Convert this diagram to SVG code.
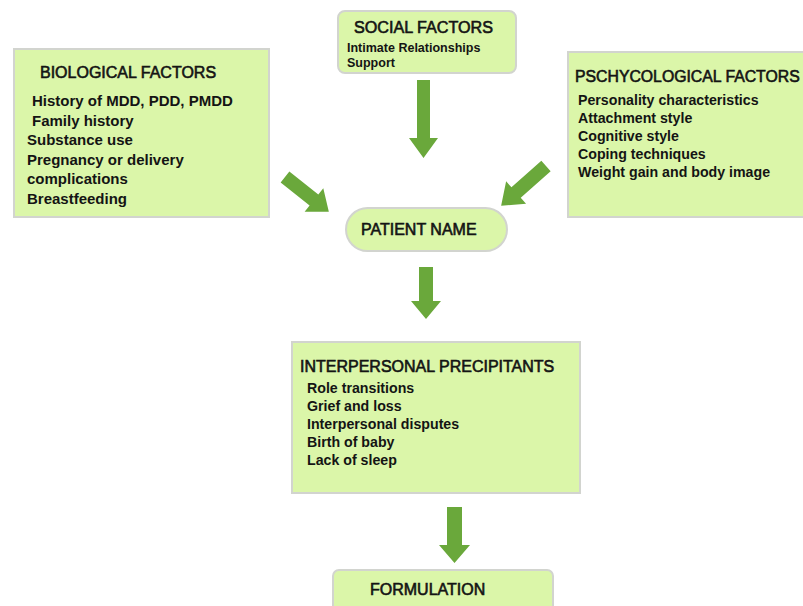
<svg xmlns="http://www.w3.org/2000/svg" width="803" height="606" viewBox="0 0 803 606">
<style>
.box{fill:#dbf6a9;stroke:#d2d4cf;stroke-width:2}
.t{font-family:"Liberation Sans",Arial,sans-serif;font-size:16px;fill:#141414;stroke:#141414;stroke-width:0.6}
.i{font-family:"Liberation Sans",Arial,sans-serif;font-weight:bold;fill:#141414}
.arr{fill:#6aa83b}
</style>
<rect width="803" height="606" fill="#ffffff"/>
<g id="connectors">
<polygon class="arr" points="417,80 430,80 430,138 438,138 423.5,158 409,138 417,138"/>
<polygon class="arr" transform="translate(285,177) rotate(38.5)" points="0,-7 37,-7 37,-15 56,0 37,15 37,7 0,7"/>
<polygon class="arr" transform="translate(546,166) rotate(138.4)" points="0,-7 40,-7 40,-15 60,0 40,15 40,7 0,7"/>
<polygon class="arr" points="419,267 433,267 433,301 441,301 426,319 411,301 419,301"/>
<polygon class="arr" points="447,507 462,507 462,545 470,545 454.5,563 439,545 447,545"/>
</g>
<g id="social">
<rect class="box" x="338" y="11" width="178" height="62" rx="7"/>
<text class="t" x="354" y="33" textLength="139" lengthAdjust="spacingAndGlyphs">SOCIAL FACTORS</text>
<text class="i" x="347" y="51.5" font-size="12.5">Intimate Relationships</text>
<text class="i" x="347" y="67" font-size="12.5">Support</text>
</g>
<g id="biological">
<rect class="box" x="14" y="49" width="255" height="168"/>
<text class="t" x="40" y="78">BIOLOGICAL FACTORS</text>
<g class="i" font-size="15">
<text x="32" y="106">History of MDD, PDD, PMDD</text>
<text x="32" y="125.5">Family history</text>
<text x="27" y="145">Substance use</text>
<text x="27" y="164.5">Pregnancy or delivery</text>
<text x="27" y="184">complications</text>
<text x="27" y="203.5">Breastfeeding</text>
</g>
</g>
<g id="psychological">
<rect class="box" x="568" y="52" width="245" height="165"/>
<text class="t" x="575" y="82" style="font-size:15.8px">PSCHYCOLOGICAL FACTORS</text>
<g class="i" font-size="14.2">
<text x="578" y="104.5">Personality characteristics</text>
<text x="578" y="122.5">Attachment style</text>
<text x="578" y="140.5">Cognitive style</text>
<text x="578" y="158.5">Coping techniques</text>
<text x="578" y="176.5">Weight gain and body image</text>
</g>
</g>
<g id="patient">
<rect class="box" x="346" y="208" width="161" height="43" rx="21.5"/>
<text class="t" x="361" y="235">PATIENT NAME</text>
</g>
<g id="interpersonal">
<rect class="box" x="292" y="342" width="288" height="151"/>
<text class="t" x="300" y="372">INTERPERSONAL PRECIPITANTS</text>
<g class="i" font-size="14.2">
<text x="307" y="392.5">Role transitions</text>
<text x="307" y="410.5">Grief and loss</text>
<text x="307" y="428.5">Interpersonal disputes</text>
<text x="307" y="446.5">Birth of baby</text>
<text x="307" y="464.5">Lack of sleep</text>
</g>
</g>
<g id="formulation">
<rect class="box" x="333" y="570" width="220" height="50" rx="6"/>
<text class="t" x="370" y="595">FORMULATION</text>
</g>
</svg>
